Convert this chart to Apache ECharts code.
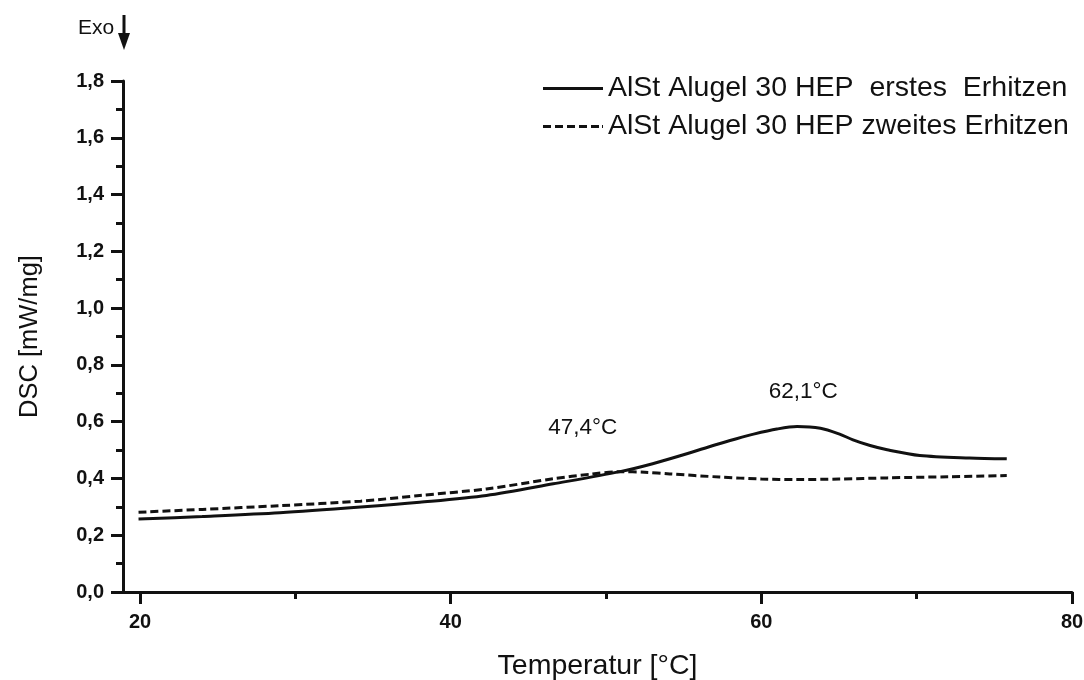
<!DOCTYPE html>
<html>
<head>
<meta charset="utf-8">
<script src="https://cdn.jsdelivr.net/npm/echarts@6/dist/echarts.min.js"></script>
<style>
html,body{margin:0;padding:0;background:#fff;}
#c{width:1084px;height:680px;}
</style>
</head>
<body>
<div id="c"></div>
<script>
// ---- data ----
const seriesNames = ['AlSt Alugel 30 HEP  erstes  Erhitzen', 'AlSt Alugel 30 HEP zweites Erhitzen'];
const tempsFirst = [19.9, 24.0, 29.0, 34.2, 38.0, 42.3, 46.6, 50.9, 53.0, 55.2, 57.0, 58.4, 59.5, 61.0, 62.3, 63.8, 65.0, 65.9, 67.0, 68.1, 70.2, 73.4, 75.8];
const dscFirst   = [0.257, 0.266, 0.279, 0.299, 0.316, 0.340, 0.381, 0.424, 0.452, 0.487, 0.518, 0.540, 0.556, 0.574, 0.583, 0.577, 0.557, 0.536, 0.516, 0.501, 0.481, 0.472, 0.469];
const tempsSecond = [19.9, 24.0, 29.0, 34.2, 38.0, 42.3, 46.6, 49.0, 50.9, 52.5, 54.1, 57.3, 60.0, 62.3, 65.0, 68.1, 72.0, 75.8];
const dscSecond   = [0.281, 0.291, 0.304, 0.320, 0.340, 0.363, 0.399, 0.415, 0.424, 0.422, 0.416, 0.405, 0.398, 0.396, 0.398, 0.402, 0.406, 0.410];
const xMajorTicks = [20, 40, 60, 80];
const xMinorTicks = [30, 50, 70];
const annotations = [
  {label: '47,4°C', t: 48.5, v: 0.580},
  {label: '62,1°C', t: 62.7, v: 0.705}
];
const xTitle = 'Temperatur [°C]';
const yTitle = 'DSC [mW/mg]';

const FONT = 'Liberation Sans, Arial, sans-serif';
const ink = '#111';
const chart = echarts.init(document.getElementById('c'), null, {renderer: 'canvas'});

const pairs = (xs, ys) => xs.map((x, i) => [x, ys[i]]);
const comma = v => String(v).replace('.', ',');

const solidIcon = 'path://M0 0H60V3H0Z';
const dashedIcon = 'path://M0 0H8V3H0Z M12 0H20V3H12Z M24 0H32V3H24Z M36 0H44V3H36Z M48 0H56V3H48Z M59 0H60V3H59Z';

const option = {
  animation: false,
  backgroundColor: '#fff',
  grid: {left: 123, right: 12, top: 81, bottom: 88, containLabel: false, outerBoundsMode: 'none'},
  legend: {
    data: [{name: seriesNames[0], icon: solidIcon}, {name: seriesNames[1], icon: dashedIcon}],
    orient: 'vertical',
    left: 538, top: 69,
    itemWidth: 60, itemHeight: 3, itemGap: 9,
    itemStyle: {color: ink, borderWidth: 0},
    textStyle: {fontFamily: FONT, fontSize: 28.5, color: ink, lineHeight: 28}
  },
  xAxis: [{
    type: 'value', min: 18.9, max: 80,
    name: xTitle, nameLocation: 'middle', nameGap: 60,
    nameTextStyle: {fontFamily: FONT, fontSize: 28.5, color: ink},
    axisLine: {show: true, onZero: false, lineStyle: {color: ink, width: 3}},
    axisTick: {show: true, inside: false, length: 12, lineStyle: {color: ink, width: 3}, customValues: xMajorTicks},
    axisLabel: {show: true, margin: 20, fontFamily: FONT, fontSize: 20, fontWeight: 'bold', color: ink, customValues: xMajorTicks, formatter: v => comma(v)},
    splitLine: {show: false}
  }, {
    type: 'value', min: 18.9, max: 80, position: 'bottom',
    axisLine: {show: false},
    axisTick: {show: true, inside: false, length: 7, lineStyle: {color: ink, width: 3}, customValues: xMinorTicks},
    axisLabel: {show: false},
    splitLine: {show: false}
  }],
  yAxis: {
    type: 'value', min: 0, max: 1.8, interval: 0.2,
    name: yTitle, nameLocation: 'middle', nameGap: 80, nameRotate: 90,
    nameTextStyle: {fontFamily: FONT, fontSize: 25.5, color: ink},
    axisLine: {show: true, onZero: false, lineStyle: {color: ink, width: 3}},
    axisTick: {show: true, inside: false, length: 12, lineStyle: {color: ink, width: 3}},
    minorTick: {show: true, splitNumber: 2, length: 7, lineStyle: {color: ink, width: 3}},
    axisLabel: {margin: 19, fontFamily: FONT, fontSize: 20, fontWeight: 'bold', color: ink, formatter: v => v.toFixed(1).replace('.', ',')},
    splitLine: {show: false},
    minorSplitLine: {show: false}
  },
  series: [{
    name: seriesNames[0], type: 'line', xAxisIndex: 0,
    data: pairs(tempsFirst, dscFirst),
    smooth: 0.3, symbol: 'none',
    lineStyle: {color: ink, width: 3, type: 'solid'},
    itemStyle: {color: ink},
    markPoint: {
      symbol: 'circle', symbolSize: 1,
      itemStyle: {color: 'rgba(0,0,0,0)'},
      label: {show: true, position: 'inside', fontFamily: FONT, fontSize: 22.5, color: ink, formatter: p => p.name},
      data: annotations.map(a => ({name: a.label, coord: [a.t, a.v]}))
    }
  }, {
    name: seriesNames[1], type: 'line', xAxisIndex: 0,
    data: pairs(tempsSecond, dscSecond),
    smooth: 0.3, symbol: 'none',
    lineStyle: {color: ink, width: 3, type: [8, 4]},
    itemStyle: {color: ink}
  }],
  graphic: [
    {type: 'text', left: 78, top: 18, style: {text: 'Exo', font: '21px ' + FONT, fill: ink}},
    {type: 'line', shape: {x1: 124, y1: 15, x2: 124, y2: 38}, style: {stroke: ink, lineWidth: 3}},
    {type: 'polygon', shape: {points: [[118, 33], [130, 33], [124, 50]]}, style: {fill: ink}}
  ]
};
chart.setOption(option);
</script>
</body>
</html>
